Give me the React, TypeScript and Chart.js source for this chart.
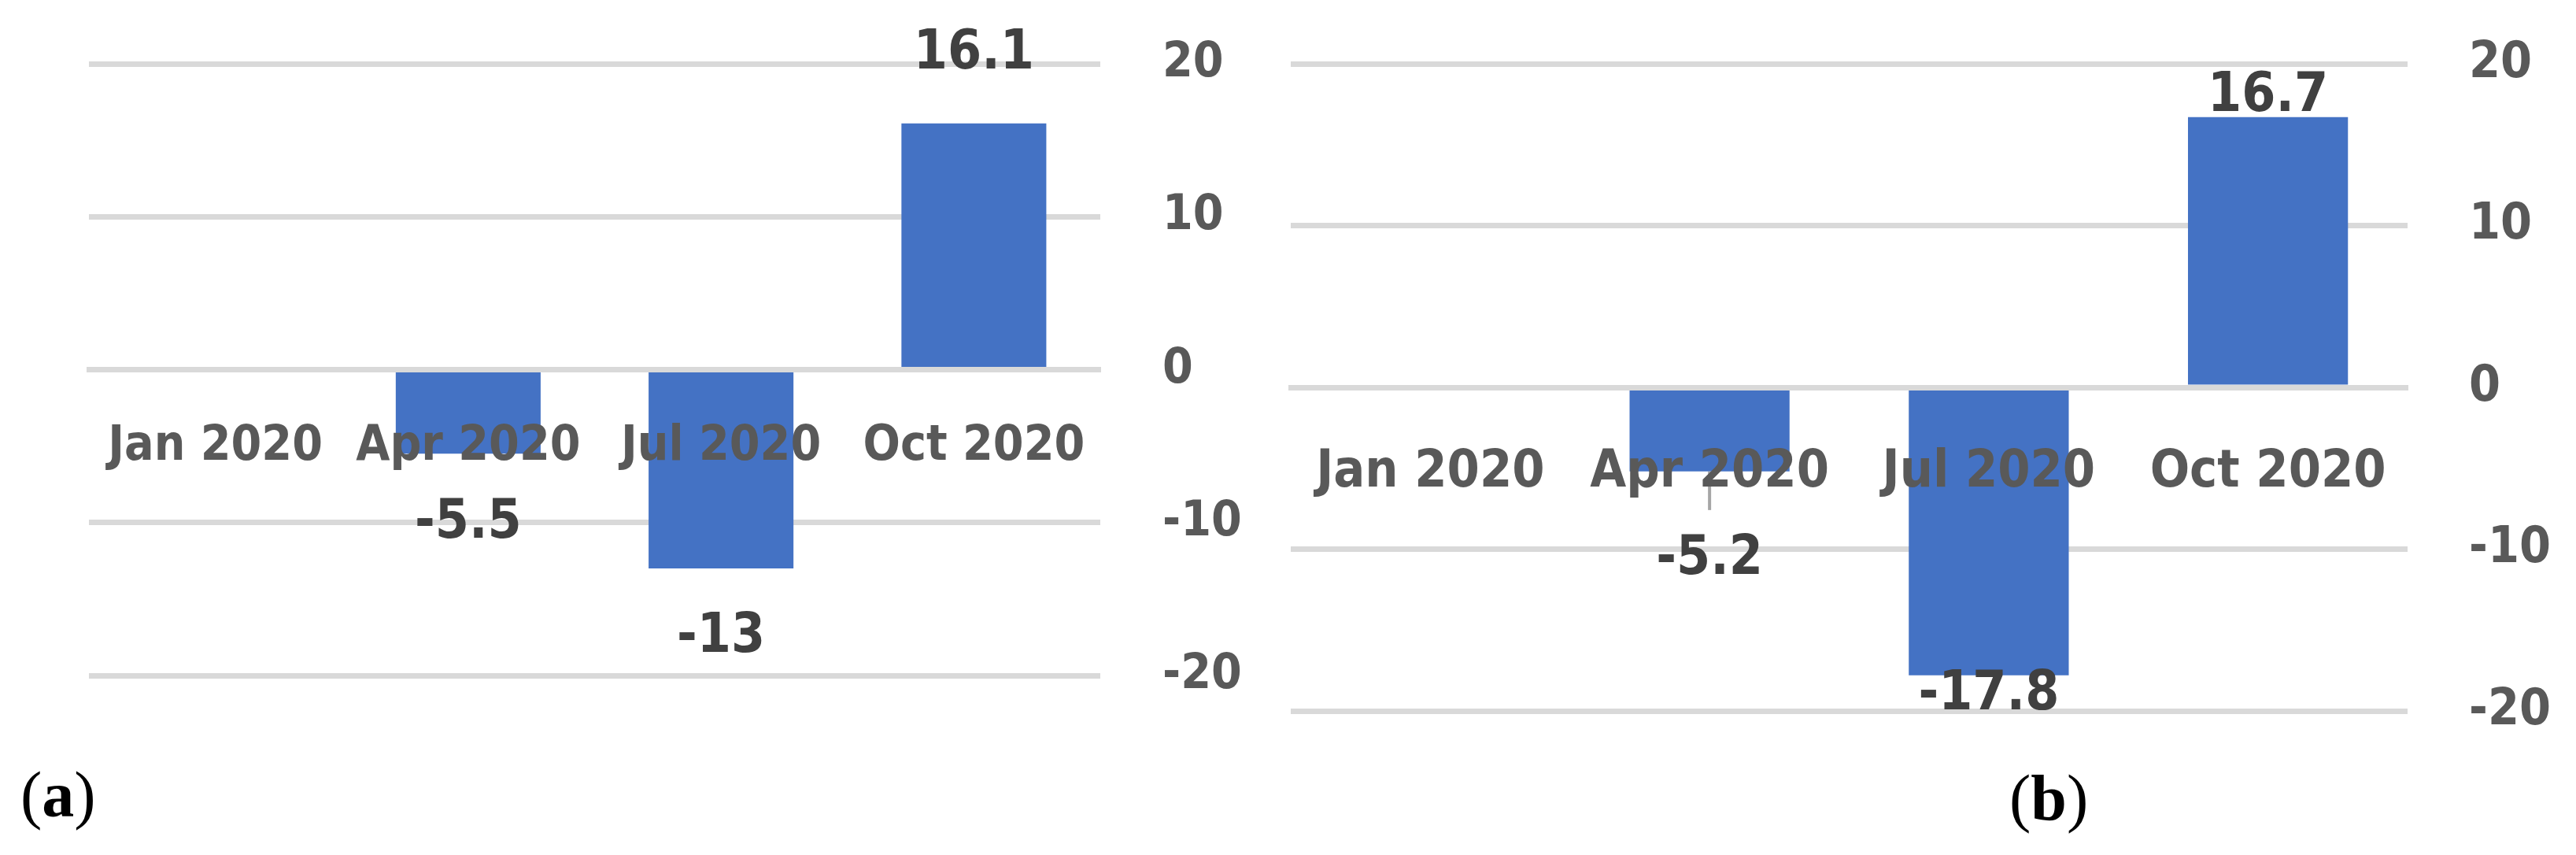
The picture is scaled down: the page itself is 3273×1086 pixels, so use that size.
import React, { useEffect, useRef } from "react";
import { Chart, registerables } from "chart.js";

Chart.register(...registerables);

const categories = ["Jan 2020", "Apr 2020", "Jul 2020", "Oct 2020"];
const valuesA: (number | null)[] = [null, -5.5, -13, 16.1];
const valuesB: (number | null)[] = [null, -5.2, -17.8, 16.7];
const yTickValues = [-20, -10, 0, 10, 20];

const FONT = "'DejaVu Sans Condensed', 'Liberation Sans Narrow', 'DejaVu Sans', sans-serif";
const BAR = "#4472c4";
const GRID = "#d9d9d9";
const AXIS_TXT = "#595959";
const LABEL_TXT = "#404040";

const valueLabelPlugin = {
  id: "valueLabels",
  afterDatasetsDraw(chart: any, _args: any, opts: any) {
    const ctx = chart.ctx;
    const meta = chart.getDatasetMeta(0);
    const data = chart.data.datasets[0].data;
    ctx.save();
    if (opts.stub) {
      const el = meta.data[opts.stub.index];
      ctx.strokeStyle = "#a6a6a6";
      ctx.lineWidth = 4;
      ctx.beginPath();
      ctx.moveTo(el.x, el.y);
      ctx.lineTo(el.x, el.y + opts.stub.length);
      ctx.stroke();
    }
    ctx.font = `bold ${opts.size}px ${FONT}`;
    ctx.fillStyle = LABEL_TXT;
    ctx.textAlign = "center";
    ctx.textBaseline = "middle";
    meta.data.forEach((el: any, i: number) => {
      const v = data[i];
      if (v == null) return;
      const dir = v < 0 ? 1 : -1;
      ctx.fillText(String(v), el.x, el.y + dir * opts.offsets[i]);
    });
    ctx.restore();
  },
};

type PanelProps = {
  values: (number | null)[];
  width: number;
  height: number;
  padding: { left: number; top: number; bottom: number; right: number };
  yAxisWidth: number;
  yPad: number;
  xPad: number;
  tickSize: number;
  xTickSize: number;
  labelSize: number;
  offsets: number[];
  stub?: { index: number; length: number };
};

function Panel(p: PanelProps) {
  const ref = useRef<HTMLCanvasElement | null>(null);
  useEffect(() => {
    if (!ref.current) return;
    const chart = new Chart(ref.current, {
      type: "bar",
      data: {
        labels: categories,
        datasets: [
          {
            data: p.values as any,
            backgroundColor: BAR,
            barPercentage: 0.573,
            categoryPercentage: 1,
          },
        ],
      },
      options: {
        responsive: false,
        animation: false,
        devicePixelRatio: 1,
        layout: { padding: p.padding },
        plugins: {
          legend: { display: false },
          tooltip: { enabled: false },
          valueLabels: { size: p.labelSize, offsets: p.offsets, stub: p.stub },
        } as any,
        scales: {
          x: {
            type: "category",
            position: { y: 0 } as any,
            offset: true,
            grid: { display: false, drawTicks: false },
            border: { display: true, color: GRID, width: 7, z: 1 } as any,
            ticks: {
              z: 1,
              color: AXIS_TXT,
              font: { family: FONT, size: p.xTickSize, weight: "bold" },
              padding: p.xPad,
              maxRotation: 0,
              autoSkip: false,
            },
            afterFit: (scale: any) => {
              scale.paddingLeft = 0;
              scale.paddingRight = 0;
            },
          },
          y: {
            position: "right",
            min: -20,
            max: 20,
            afterBuildTicks: (scale: any) => {
              scale.ticks = yTickValues.map((v) => ({ value: v }));
            },
            afterFit: (scale: any) => {
              scale.width = p.yAxisWidth;
              scale.paddingTop = 0;
              scale.paddingBottom = 0;
            },
            grid: { color: GRID, lineWidth: 7, drawTicks: false },
            border: { display: false },
            ticks: {
              color: AXIS_TXT,
              font: { family: FONT, size: p.tickSize, weight: "bold" },
              padding: p.yPad,
            },
          },
        },
      },
      plugins: [valueLabelPlugin],
    });
    return () => chart.destroy();
  }, []);
  return (
    <canvas
      ref={ref}
      width={p.width}
      height={p.height}
      style={{ width: p.width, height: p.height, display: "block" }}
    />
  );
}

const letterStyle: React.CSSProperties = {
  position: "absolute",
  fontFamily: "'Liberation Serif', 'Times New Roman', serif",
  fontSize: 82,
  lineHeight: "82px",
  color: "#000",
  whiteSpace: "nowrap",
};

export default function App() {
  return (
    <div
      style={{
        position: "absolute",
        left: 0,
        top: 0,
        width: 3273,
        height: 1086,
        background: "#fff",
        overflow: "hidden",
      }}
    >
      <div style={{ position: "absolute", left: 0, top: 0 }}>
        <Panel
          values={valuesA}
          width={1640}
          height={1086}
          padding={{ left: 113, top: 81, bottom: 228, right: 0 }}
          yAxisWidth={242}
          yPad={79}
          xPad={61}
          tickSize={62}
          xTickSize={62}
          labelSize={69}
          offsets={[0, 89, 88, 88]}
        />
      </div>
      <div style={{ position: "absolute", left: 1600, top: 0 }}>
        <Panel
          values={valuesB}
          width={1673}
          height={1086}
          padding={{ left: 40, top: 81, bottom: 183, right: 0 }}
          yAxisWidth={214}
          yPad={78}
          xPad={69}
          tickSize={64}
          xTickSize={66}
          labelSize={69}
          offsets={[0, 112, 25, 26]}
          stub={{ index: 1, length: 49 }}
        />
      </div>
      <div style={{ ...letterStyle, left: 26, top: 969 }}>
        (<b>a</b>)
      </div>
      <div style={{ ...letterStyle, left: 2553, top: 973 }}>
        (<b>b</b>)
      </div>
    </div>
  );
}
